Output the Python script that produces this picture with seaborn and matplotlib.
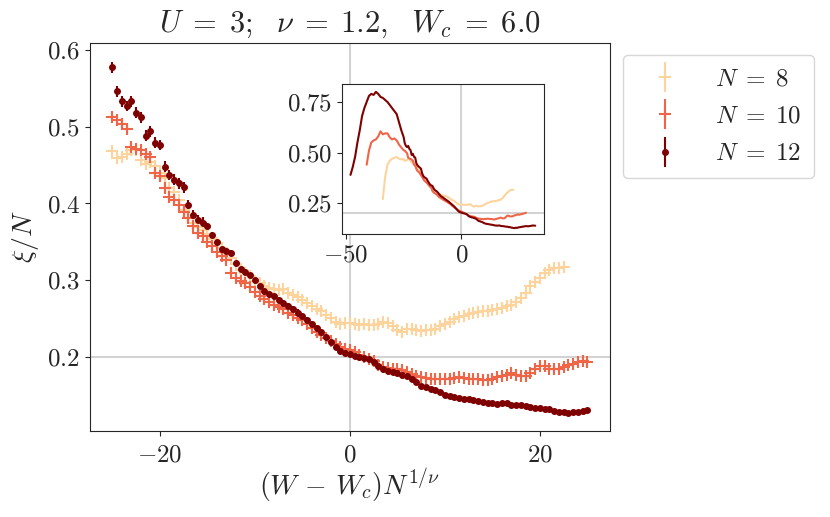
import numpy as np
import pandas as pd
import seaborn as sns
import matplotlib.pyplot as plt
from matplotlib.container import ErrorbarContainer
from matplotlib.legend_handler import HandlerErrorbar

# main panel: scaled disorder grid (step 0.5)
x_main = np.arange(-25, 25.01, 0.5)

xi_n12 = [0.577, 0.546, 0.533, 0.527, 0.533, 0.518, 0.512, 0.488, 0.494, 0.479,
          0.476, 0.448, 0.437, 0.431, 0.426, 0.421, 0.398, 0.385, 0.378, 0.375,
          0.370, 0.359, 0.350, 0.341, 0.338, 0.335, 0.323, 0.315, 0.311, 0.307,
          0.300, 0.293, 0.286, 0.282, 0.279, 0.274, 0.270, 0.266, 0.262, 0.258,
          0.253, 0.248, 0.243, 0.238, 0.233, 0.226, 0.220, 0.213, 0.208, 0.205,
          0.204, 0.201, 0.200, 0.199, 0.197, 0.194, 0.188, 0.184, 0.182, 0.180,
          0.179, 0.177, 0.175, 0.172, 0.167, 0.162, 0.161, 0.159, 0.157, 0.154,
          0.151, 0.149, 0.148, 0.147, 0.146, 0.145, 0.144, 0.143, 0.142, 0.140,
          0.140, 0.139, 0.140, 0.140, 0.138, 0.137, 0.137, 0.136, 0.135, 0.134,
          0.134, 0.132, 0.132, 0.130, 0.129, 0.128, 0.127, 0.129, 0.128, 0.130,
          0.131]

xi_n10 = [0.512, 0.509, 0.503, 0.497, 0.474, 0.471, 0.469, 0.465, 0.460, 0.440,
          0.436, 0.420, 0.409, 0.405, 0.398, 0.389, 0.381, 0.370, 0.361, 0.357,
          0.350, 0.345, 0.337, 0.331, 0.326, 0.310, 0.303, 0.299, 0.296, 0.291,
          0.285, 0.279, 0.276, 0.272, 0.268, 0.265, 0.262, 0.258, 0.255, 0.251,
          0.248, 0.243, 0.238, 0.233, 0.229, 0.225, 0.221, 0.217, 0.213, 0.211,
          0.209, 0.206, 0.203, 0.200, 0.197, 0.195, 0.190, 0.187, 0.186, 0.185,
          0.184, 0.183, 0.181, 0.178, 0.175, 0.174, 0.173, 0.172, 0.172, 0.171,
          0.172, 0.172, 0.173, 0.174, 0.173, 0.172, 0.172, 0.171, 0.170, 0.170,
          0.172, 0.174, 0.175, 0.177, 0.179, 0.177, 0.175, 0.175, 0.179, 0.184,
          0.189, 0.188, 0.185, 0.185, 0.185, 0.187, 0.190, 0.191, 0.193, 0.195,
          0.193]

xi_n8 = [0.468, 0.459, 0.461, 0.464, 0.469, 0.470, 0.457, 0.452, 0.454, 0.449,
         0.440, 0.433, 0.420, 0.415, 0.404, 0.392, 0.381, 0.374, 0.369, 0.365,
         0.360, 0.354, 0.349, 0.342, 0.335, 0.329, 0.321, 0.313, 0.310, 0.305,
         0.299, 0.297, 0.293, 0.290, 0.288, 0.287, 0.288, 0.283, 0.281, 0.278,
         0.274, 0.270, 0.266, 0.263, 0.260, 0.255, 0.251, 0.246, 0.243, 0.244,
         0.244, 0.243, 0.242, 0.243, 0.242, 0.242, 0.243, 0.245, 0.244, 0.240,
         0.235, 0.233, 0.236, 0.237, 0.235, 0.234, 0.235, 0.235, 0.237, 0.240,
         0.243, 0.246, 0.249, 0.252, 0.254, 0.256, 0.258, 0.259, 0.260, 0.260,
         0.261, 0.263, 0.264, 0.266, 0.268, 0.272, 0.277, 0.284, 0.292, 0.298,
         0.303, 0.309, 0.313, 0.316, 0.316, 0.317]

# rough error bar sizes
err_n12 = [0.007] * 20 + [0.004] * 30 + [0.0025] * 51
err_n10 = [0.005] * 50 + [0.004] * 51
err_n8 = [0.006] * 40 + [0.005] * 40 + [0.0065] * 16

# inset only: data outside the main window (step 1)
ext12_left_x = list(range(-48, -25))
ext12_left = [0.39, 0.43, 0.48, 0.55, 0.61, 0.68, 0.72, 0.75, 0.78, 0.79, 0.785, 0.80,
              0.79, 0.775, 0.77, 0.76, 0.75, 0.735, 0.72, 0.705, 0.69, 0.65, 0.61]
ext12_right_x = list(range(26, 33))
ext12_right = [0.133, 0.135, 0.137, 0.136, 0.138, 0.140, 0.139]

ext10_left_x = list(range(-41, -25))
ext10_left = [0.44, 0.51, 0.55, 0.56, 0.565, 0.58, 0.605, 0.59, 0.595, 0.595,
              0.575, 0.565, 0.57, 0.56, 0.54, 0.525]
ext10_right_x = [26, 27, 28]
ext10_right = [0.196, 0.199, 0.203]

ext8_left_x = list(range(-34, -25))
ext8_left = [0.27, 0.38, 0.44, 0.46, 0.47, 0.475, 0.478, 0.47, 0.466]

colors = {8: '#fdd49e', 10: '#ef6548', 12: '#7f0000'}

sns.set_style('ticks')
plt.rcParams['font.family'] = 'serif'
plt.rcParams['font.serif'] = ['cmr10']
plt.rcParams['mathtext.fontset'] = 'cm'
plt.rcParams['axes.formatter.use_mathtext'] = True
plt.rcParams['axes.unicode_minus'] = True

fig = plt.figure(figsize=(8.3, 5.17), dpi=100)
ax = fig.add_axes([0.108, 0.166, 0.627, 0.751])

ax.axhline(0.2, color='lightgray', lw=1.5, zorder=0)
ax.axvline(0, color='lightgray', lw=1.5, zorder=0)

ax.errorbar(x_main[:len(xi_n8)], xi_n8, yerr=err_n8, fmt='+', ms=8, mew=1.5,
            color=colors[8], label=r'$N\;=\;8$')
ax.errorbar(x_main, xi_n10, yerr=err_n10, fmt='+', ms=8, mew=1.5,
            color=colors[10], label=r'$N\;=\;10$')
ax.errorbar(x_main, xi_n12, yerr=err_n12, fmt='o', ms=4,
            color=colors[12], label=r'$N\;=\;12$')

ax.set_xlim(-27.4, 27.4)
ax.set_ylim(0.1035, 0.609)
ax.set_xticks([-20, 0, 20])
ax.set_yticks([0.2, 0.3, 0.4, 0.5, 0.6])
ax.tick_params(labelsize=18)
ax.tick_params(axis='x', pad=6)
ax.set_xlabel(r'$(W\,-\,W_c)N^{1/\nu}$', fontsize=20, labelpad=0)
ax.set_ylabel(r'$\xi/N$', fontsize=20)
ax.set_title(r'$U\;=\;3;\ \ \nu\;=\;1.2,\ \ W_c\;=\;6.0$', fontsize=22, pad=8)
ax.legend(loc='upper left', bbox_to_anchor=(1.0, 1.0), fontsize=18,
          handlelength=2.4, labelspacing=0.6, borderpad=0.5,
          handler_map={ErrorbarContainer: HandlerErrorbar(yerr_size=0.6)})

# inset with the full range
rows = []
for n, xs, ys in [
    (8, ext8_left_x + list(x_main[:len(xi_n8)]), ext8_left + xi_n8),
    (10, ext10_left_x + list(x_main) + ext10_right_x, ext10_left + xi_n10 + ext10_right),
    (12, ext12_left_x + list(x_main) + ext12_right_x, ext12_left + xi_n12 + ext12_right),
]:
    for xv, yv in zip(xs, ys):
        rows.append({'x': xv, 'y': yv, 'N': n})
df_inset = pd.DataFrame(rows)

axin = fig.add_axes([0.412, 0.547, 0.244, 0.291])
axin.axhline(0.2, color='lightgray', lw=1.5, zorder=0)
axin.axvline(0, color='lightgray', lw=1.5, zorder=0)
sns.lineplot(data=df_inset, x='x', y='y', hue='N', palette=colors, sort=False,
             lw=1.5, legend=False, ax=axin)
axin.set_xlim(-51.7, 36.0)
axin.set_ylim(0.097, 0.84)
axin.set_xticks([-50, 0])
axin.set_yticks([0.25, 0.5, 0.75])
axin.set_xlabel('')
axin.set_ylabel('')
axin.tick_params(labelsize=18)

fig.savefig('out.png', dpi=100)
